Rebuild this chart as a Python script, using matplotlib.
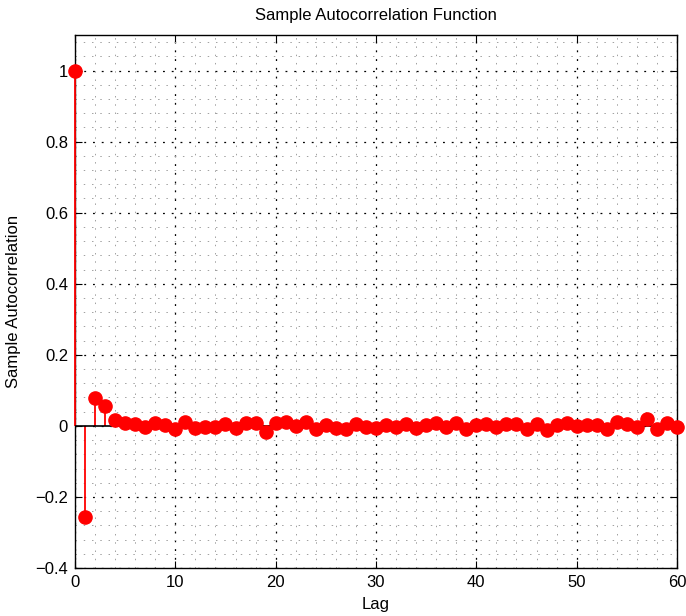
import numpy as np
import matplotlib.pyplot as plt
from matplotlib.ticker import MultipleLocator

plt.rcParams['font.family'] = ['Liberation Sans', 'DejaVu Sans']

lags = np.arange(0, 61)
acf = [1.0, -0.256, 0.079, 0.056, 0.017, 0.008, 0.005, -0.004, 0.009, 0.003,
       -0.008, 0.011, -0.007, -0.003, -0.002, 0.004, -0.005, 0.008, 0.009, -0.018,
       0.008, 0.010, 0.000, 0.012, -0.009, 0.003, -0.006, -0.008, 0.005, -0.004,
       -0.006, 0.002, -0.002, 0.005, -0.006, 0.003, 0.008, -0.002, 0.008, -0.010,
       0.003, 0.004, -0.003, 0.005, 0.005, -0.008, 0.005, -0.011, 0.003, 0.007,
       0.001, 0.003, 0.003, -0.008, 0.012, 0.004, -0.004, 0.018, -0.009, 0.008,
       -0.004]

fig = plt.figure(figsize=(6.86, 6.16), dpi=100)
ax = fig.add_axes([0.1093, 0.0779, 0.8776, 0.8653])

ax.vlines(lags, 0, acf, color='red', linewidth=1.3, zorder=3, clip_on=False)
ax.plot(lags, acf, 'o', color='red', markersize=9.5, zorder=4, clip_on=False)
ax.plot([0, 60], [0, 0], color='black', linewidth=1.2, zorder=3)

ax.set_xlim(0, 60)
ax.set_ylim(-0.4, 1.1)
ax.xaxis.set_major_locator(MultipleLocator(10))
ax.xaxis.set_minor_locator(MultipleLocator(2))
ax.yaxis.set_minor_locator(MultipleLocator(0.04))
ax.set_yticks(np.arange(-0.4, 1.01, 0.2))
ax.set_yticklabels(['\u22120.4', '\u22120.2', '0', '0.2', '0.4', '0.6', '0.8', '1'])

ax.grid(True, which='major', color='black', linestyle=(0, (1.5, 5.5)), linewidth=0.9)
ax.grid(True, which='minor', color='#a0a0a0', linestyle=(0, (1.5, 7)), linewidth=0.7)
ax.tick_params(which='both', direction='in', top=True, right=True, labelsize=12)
ax.tick_params(which='major', length=5, pad=5)
ax.tick_params(which='minor', length=0)

for s in ax.spines.values():
    s.set_linewidth(1.0)

ax.set_title('Sample Autocorrelation Function', fontsize=12, pad=11)
ax.set_xlabel('Lag', fontsize=12, labelpad=5)
ax.set_ylabel('Sample Autocorrelation', fontsize=12, labelpad=10)

fig.savefig('out.png', dpi=100)
